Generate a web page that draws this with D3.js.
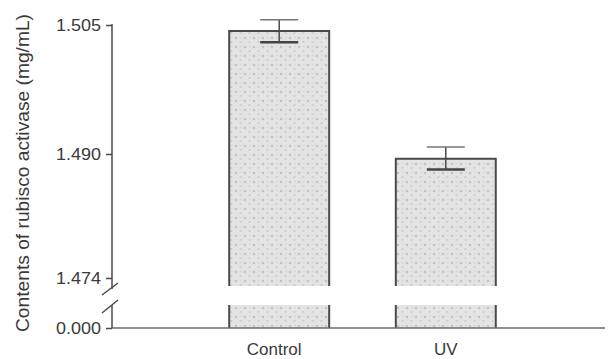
<!DOCTYPE html>
<html>
<head>
<meta charset="utf-8">
<script src="https://cdn.jsdelivr.net/npm/d3@7"></script>
<style>
  html, body { margin: 0; padding: 0; background: #fff; }
  svg { display: block; font-family: "Liberation Sans", Arial, sans-serif; }
</style>
</head>
<body>
<svg id="chart" width="609" height="359"></svg>
<script>
const categories = ["Control", "UV"];
const means = [1.5043, 1.4894];
const errors = [0.0013, 0.0014];
const upperTicks = [1.474, 1.490, 1.505];
const lowerTicks = [0.000];
const yTitle = "Contents of rubisco activase (mg/mL)";

const svg = d3.select("#chart");
const ink = "#4a4a4a";
const axisX = 112;

// stipple texture for bars
const defs = svg.append("defs");
const pat = defs.append("pattern").attr("id", "stip").attr("patternUnits", "userSpaceOnUse")
  .attr("width", 9).attr("height", 9);
pat.append("rect").attr("width", 9).attr("height", 9).attr("fill", "#e4e4e4");
pat.append("circle").attr("cx", 2).attr("cy", 2).attr("r", 1.3).attr("fill", "#c4c4c4");
pat.append("circle").attr("cx", 6.5).attr("cy", 6).attr("r", 1.1).attr("fill", "#cbcbcb");
pat.append("circle").attr("cx", 7).attr("cy", 1.5).attr("r", 0.8).attr("fill", "#d2d2d2");

const x = d3.scaleBand().domain(categories).range([162.6, 562.4])
  .paddingInner(0.4).paddingOuter(0.4);
const yUp = d3.scaleLinear().domain([1.474, 1.490, 1.505]).range([278, 154, 25]);
const yLow = d3.scaleLinear().domain([0, 0.001]).range([328, 320]);

const upperBottom = 286, lowerTop = 305;

// Bars
const bars = svg.append("g");
categories.forEach((c, i) => {
  const x0 = x(c), w = x.bandwidth(), x1 = x0 + w;
  const top = yUp(means[i]);
  bars.append("rect").attr("x", x0).attr("y", top).attr("width", w)
    .attr("height", upperBottom - top).attr("fill", "url(#stip)");
  bars.append("rect").attr("x", x0).attr("y", lowerTop).attr("width", w)
    .attr("height", yLow(0) - lowerTop).attr("fill", "url(#stip)");
  bars.append("path")
    .attr("d", `M${x0},${upperBottom}V${top}H${x1}V${upperBottom}`)
    .attr("fill", "none").attr("stroke", ink).attr("stroke-width", 2);
  bars.append("path")
    .attr("d", `M${x0},${lowerTop}V${yLow(0)}M${x1},${lowerTop}V${yLow(0)}`)
    .attr("fill", "none").attr("stroke", ink).attr("stroke-width", 2);
  // error bars
  const cx = x0 + w / 2, capW = 19;
  const yHi = yUp(means[i] + errors[i]), yLo = yUp(means[i] - errors[i]);
  bars.append("line").attr("x1", cx).attr("x2", cx).attr("y1", yHi).attr("y2", yLo)
    .attr("stroke", ink).attr("stroke-width", 1.5);
  bars.append("line").attr("x1", cx - capW).attr("x2", cx + capW).attr("y1", yHi).attr("y2", yHi)
    .attr("stroke", "#777").attr("stroke-width", 1.5);
  bars.append("line").attr("x1", cx - capW).attr("x2", cx + capW).attr("y1", yLo).attr("y2", yLo)
    .attr("stroke", "#444").attr("stroke-width", 2.5);
});

// X axis baseline
svg.append("line").attr("x1", axisX).attr("x2", 605).attr("y1", yLow(0)).attr("y2", yLow(0))
  .attr("stroke", "#6a6a6a").attr("stroke-width", 1.5);

// Upper y axis
const gUp = svg.append("g").attr("transform", `translate(${axisX},0)`)
  .call(d3.axisLeft(yUp).tickValues(upperTicks).tickFormat(d3.format(".3f")).tickSize(6).tickPadding(5));
gUp.select(".domain").remove();
gUp.append("line").attr("x1", 0).attr("x2", 0).attr("y1", yUp(1.505) - 1).attr("y2", 289)
  .attr("stroke", ink).attr("stroke-width", 1.5);

// Lower y axis
const gLow = svg.append("g").attr("transform", `translate(${axisX},0)`)
  .call(d3.axisLeft(yLow).tickValues(lowerTicks).tickFormat(d3.format(".3f")).tickSize(6).tickPadding(5));
gLow.select(".domain").remove();
gLow.append("line").attr("x1", 0).attr("x2", 0).attr("y1", lowerTop).attr("y2", yLow(0))
  .attr("stroke", ink).attr("stroke-width", 1.5);

svg.selectAll(".tick line").attr("stroke", ink).attr("stroke-width", 1.5);
svg.selectAll(".tick text").attr("fill", "#3a3a3a").style("font-size", "17px")
  .style("font-family", "'Liberation Sans', Arial, sans-serif")
  .attr("textLength", 45).attr("lengthAdjust", "spacingAndGlyphs");

// Break marks
const brk = svg.append("g").attr("stroke", ink).attr("stroke-width", 1.5);
brk.append("line").attr("x1", axisX - 10).attr("y1", 295).attr("x2", axisX + 6).attr("y2", 283);
brk.append("line").attr("x1", axisX - 10).attr("y1", 313).attr("x2", axisX + 6).attr("y2", 300);

// X labels
svg.append("g").selectAll("text").data(categories).join("text")
  .attr("x", d => x(d) + x.bandwidth() / 2 - (d === "Control" ? 5 : 0))
  .attr("y", 355)
  .attr("text-anchor", "middle").attr("fill", "#3a3a3a").style("font-size", "17px")
  .text(d => d);

// Y title
svg.append("text")
  .attr("transform", "translate(29,173) rotate(-90)")
  .attr("text-anchor", "middle").attr("fill", "#3a3a3a").style("font-size", "18px")
  .attr("textLength", 318).attr("lengthAdjust", "spacingAndGlyphs")
  .text(yTitle);
</script>
</body>
</html>
